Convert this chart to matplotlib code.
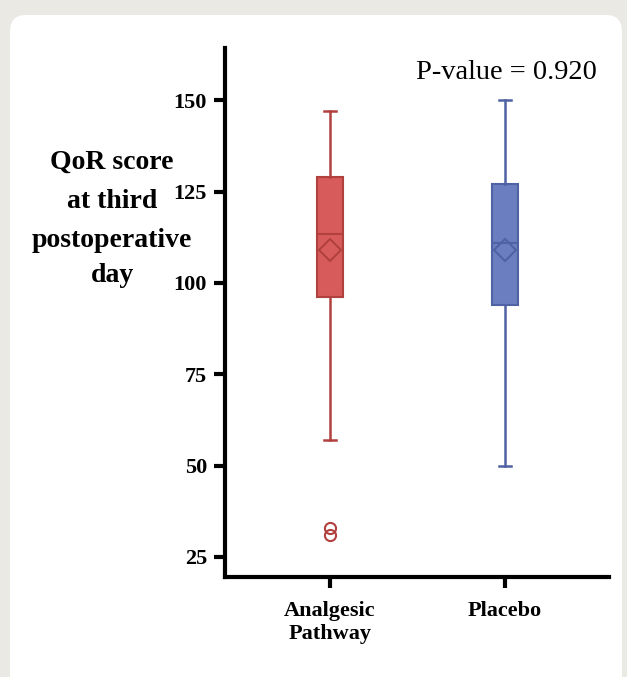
import matplotlib.pyplot as plt
from matplotlib.patches import FancyBboxPatch

# Summary statistics
groups = ["Analgesic\nPathway", "Placebo"]
q1 = [96, 94]
med = [113.5, 111]
q3 = [129, 127]
mean = [109, 109]
whislo = [57, 50]
whishi = [147, 150]
fliers = [[33, 31], []]

ylabel_lines = ["QoR score", "at third", "postoperative", "day"]
ylabel_rows = [159, 199, 237, 272]  # pixel rows of the label lines

face_colors = ["#d85b5b", "#6b7fc0"]
edge_colors = ["#b0413e", "#4f62a3"]

plt.rcParams["font.family"] = ["Liberation Serif", "DejaVu Serif"]

fig = plt.figure(figsize=(6.27, 6.77), dpi=100)
fig.patch.set_facecolor("#ebe9e3")
card = FancyBboxPatch((10 / 627, -0.05), 612 / 627, 1.05 - 15 / 677,
                      boxstyle="round,pad=0,rounding_size=0.025",
                      transform=fig.transFigure, facecolor="white",
                      edgecolor="none", zorder=-10)
fig.patches.append(card)

ax = fig.add_axes([0.359, 0.1477, 0.612, 0.781])
ax.set_facecolor("none")
ax.set_zorder(5)

stats = []
for i in range(len(groups)):
    stats.append({"q1": q1[i], "med": med[i], "q3": q3[i], "mean": mean[i],
                  "whislo": whislo[i], "whishi": whishi[i], "fliers": fliers[i]})

for i, s in enumerate(stats):
    ax.bxp([s], positions=[i + 1], widths=0.15, patch_artist=True,
           showmeans=True, capwidths=0.07,
           boxprops=dict(facecolor=face_colors[i], edgecolor=edge_colors[i], linewidth=1.5),
           medianprops=dict(color=edge_colors[i], linewidth=1.5),
           whiskerprops=dict(color=edge_colors[i], linewidth=1.8),
           capprops=dict(color=edge_colors[i], linewidth=1.8),
           meanprops=dict(marker="D", markerfacecolor="none",
                          markeredgecolor=edge_colors[i], markersize=11,
                          markeredgewidth=1.5),
           flierprops=dict(marker="o", markerfacecolor="none",
                           markeredgecolor=edge_colors[i], markersize=8,
                           markeredgewidth=1.5))

ax.set_xlim(0.4, 2.594)
ax.set_ylim(19.5, 164.2)
ax.set_yticks([25, 50, 75, 100, 125, 150])
ax.set_xticks([1, 2])
ax.set_xticklabels(groups, linespacing=1.2)

for side in ["top", "right"]:
    ax.spines[side].set_visible(False)
for side in ["left", "bottom"]:
    ax.spines[side].set_linewidth(3)

ax.tick_params(axis="both", length=8, width=3, labelsize=16, pad=5)
ax.tick_params(axis="x", pad=9)
for lbl in ax.get_xticklabels() + ax.get_yticklabels():
    lbl.set_fontweight("bold")

ax.text(0.969, 0.955, "P-value = 0.920", transform=ax.transAxes,
        ha="right", va="center", fontsize=20.5)

# y label drawn line by line, as in the reference
for line, row in zip(ylabel_lines, ylabel_rows):
    fig.text(112 / 627, 1 - row / 677, line, ha="center", va="center_baseline",
             fontsize=20, fontweight="bold")

fig.savefig("out.png", dpi=100)
